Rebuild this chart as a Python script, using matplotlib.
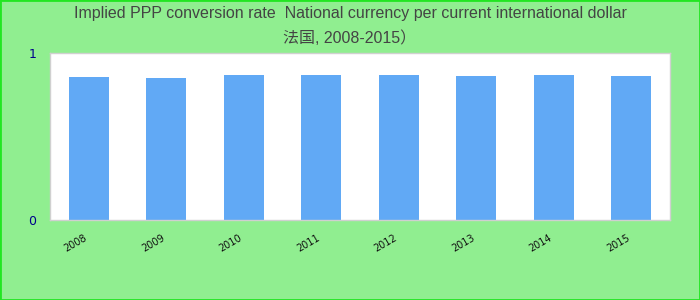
import matplotlib
matplotlib.use("Agg")
import matplotlib.pyplot as plt
from matplotlib.patches import Rectangle

years = ["2008", "2009", "2010", "2011", "2012", "2013", "2014", "2015"]
values = [0.854, 0.853, 0.866, 0.866, 0.866, 0.865, 0.866, 0.860]
yticks = [0, 1]
title_line1 = "Implied PPP conversion rate  National currency per current international dollar"
title_line2 = "法国, 2008-2015）"

fig = plt.figure(figsize=(7, 3), dpi=100)
fig.patch.set_facecolor("#90ee90")
fig.patches.append(Rectangle((0, 0), 1, 1, transform=fig.transFigure, fill=False,
                             edgecolor="#22e622", linewidth=2, zorder=10))

ax = fig.add_axes([50 / 700, 80 / 300, 620 / 700, 167 / 300])
ax.set_facecolor("white")
x = list(range(len(years)))
ax.bar(x, values, width=0.52, color="#61a9f5")
ax.set_xlim(-0.5, len(years) - 0.5)
ax.set_ylim(0, 1)
ax.set_yticks(yticks)
ax.set_yticklabels([str(v) for v in yticks], color="#00008b", fontsize=9,
                   family="DejaVu Sans")
ax.set_xticks(x)
ax.set_xticklabels(years, rotation=30, ha="right", fontsize=7, color="#111111")
ax.tick_params(axis="y", length=0, pad=10)
ax.tick_params(axis="x", length=0, pad=9)
for s in ax.spines.values():
    s.set_color("#d0d0d0")
    s.set_linewidth(1)

fam = ["Liberation Sans", "Noto Sans CJK SC", "DejaVu Sans"]
fig.text(0.5, 1 - 13.5 / 300, title_line1, ha="center", va="center", fontsize=11.5,
         color="#444444", family=fam)
fig.text(0.5, 1 - 38 / 300, title_line2, ha="center", va="center", fontsize=11.5,
         color="#444444", family=fam)

fig.savefig("out.png", dpi=100, facecolor=fig.get_facecolor())
